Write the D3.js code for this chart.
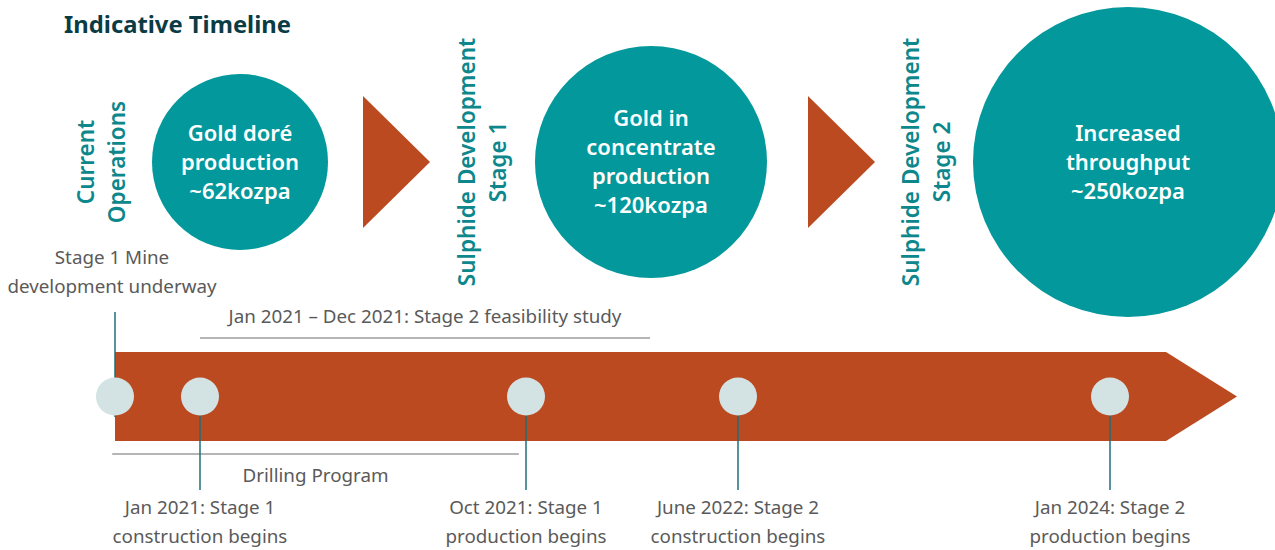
<!DOCTYPE html>
<html><head><meta charset="utf-8">
<script src="https://cdn.jsdelivr.net/npm/d3@7"></script>
<style>
html,body{margin:0;padding:0;background:#fff;}
svg{display:block;font-family:"Noto Sans",sans-serif;}
</style></head>
<body><svg id="chart" width="1275" height="550"></svg>
<script>
// ---- data ----
const title = "Indicative Timeline";
const stageKeys = ["current", "stage1", "stage2"];
const stageLabels = [["Current", "Operations"], ["Sulphide Development", "Stage 1"], ["Sulphide Development", "Stage 2"]];
const stageText = [["Gold doré", "production", "~62kozpa"], ["Gold in", "concentrate", "production", "~120kozpa"], ["Increased", "throughput", "~250kozpa"]];
const stageKozpa = [62, 120, 250];

const milestoneDates = ["2020-10-01", "2021-01-01", "2021-10-01", "2022-06-01", "2024-01-01"];
const milestoneAbove = [["Stage 1 Mine", "development underway"], null, null, null, null];
const milestoneBelow = [null, ["Jan 2021: Stage 1", "construction begins"], ["Oct 2021: Stage 1", "production begins"], ["June 2022: Stage 2", "construction begins"], ["Jan 2024: Stage 2", "production begins"]];

const spanLabels = ["Jan 2021 – Dec 2021: Stage 2 feasibility study", "Drilling Program"];
const spanStart = ["2021-01-01", "2020-09-28"];
const spanEnd = ["2021-12-01", "2021-09-25"];
const spanSide = ["above", "below"];

// ---- styles ----
const C = {teal:"#03989b", rust:"#bc4a20", dot:"#d3e2e2", stem:"#1e6f78", grey:"#5a5a5a", span:"#b5b5b5", title:"#0b3c46", label:"#0d878b"};
const FS = 18.8;

const svg = d3.select("#chart");
const parse = d3.timeParse("%Y-%m-%d");

// piecewise time scale (timeline is not drawn to scale in the original)
const x = d3.scaleTime()
  .domain(["2020-10-01","2021-01-01","2021-10-01","2021-12-01","2022-06-01","2024-01-01"].map(parse))
  .range([115, 200, 526, 650, 738, 1110]);

// stage positions
const stageX = d3.scaleOrdinal().domain(stageKeys).range([240, 651, 1128]);
const labelX = d3.scaleOrdinal().domain(stageKeys).range([102, 483, 927]);
const arrowX = d3.scaleOrdinal().domain(stageKeys).range([363, 808, null]);
const rScale = d3.scaleLinear().domain([62, 120, 250]).range([88, 116, 155]);
const cy = 162;

// title
svg.append("text").attr("x", 64).attr("y", 33).text(title)
  .attr("font-size", 23.8).attr("font-weight", 700).attr("fill", C.title);

// stages
stageKeys.forEach((k, i) => {
  const g = svg.append("g");
  const r = rScale(stageKozpa[i]);
  g.append("circle").attr("cx", stageX(k)).attr("cy", cy).attr("r", r).attr("fill", C.teal);
  const lines = stageText[i];
  const lh = 29;
  const y0 = cy - (lines.length - 1) * lh / 2 + 7.5;
  lines.forEach((t, j) => {
    g.append("text").attr("x", stageX(k)).attr("y", y0 + j * lh).attr("text-anchor", "middle")
      .attr("font-size", 22).attr("font-weight", 600).attr("fill", "#fff").text(t);
  });
  // rotated label
  const lab = stageLabels[i];
  lab.forEach((t, j) => {
    const lx = labelX(k) + (j - (lab.length - 1) / 2) * 31 + 7.5;
    g.append("text").attr("transform", `translate(${lx},${cy}) rotate(-90)`)
      .attr("text-anchor", "middle").attr("font-size", 22.5).attr("font-weight", 600)
      .attr("fill", C.label).text(t);
  });
  if (arrowX(k) != null) {
    const ax = arrowX(k);
    g.append("path").attr("d", d3.line()([[ax, cy - 66], [ax + 67, cy], [ax, cy + 66]]) + "Z").attr("fill", C.rust);
  }
});

// band arrow
const bandTop = 352, bandBot = 441, bandMid = (bandTop + bandBot) / 2;
const bx0 = x(parse(milestoneDates[0])), bx1 = 1166, tip = 1237;
svg.append("path").attr("d", d3.line()([[bx0, bandTop], [bx1, bandTop], [tip, bandMid], [bx1, bandBot], [bx0, bandBot]]) + "Z")
  .attr("fill", C.rust);

// spans
spanLabels.forEach((t, i) => {
  const s = x(parse(spanStart[i])), e = x(parse(spanEnd[i]));
  const ly = spanSide[i] === "above" ? 338 : 454;
  svg.append("line").attr("x1", s).attr("x2", e).attr("y1", ly).attr("y2", ly)
    .attr("stroke", C.span).attr("stroke-width", 2);
  const ty = spanSide[i] === "above" ? 323 : 482;
  svg.append("text").attr("x", (s + e) / 2).attr("y", ty).attr("text-anchor", "middle")
    .attr("font-size", FS).attr("fill", C.grey).text(t);
});

// milestones
milestoneDates.forEach((d, i) => {
  const mx = x(parse(d));
  if (milestoneAbove[i]) {
    svg.append("line").attr("x1", mx).attr("x2", mx).attr("y1", 312).attr("y2", 417)
      .attr("stroke", C.stem).attr("stroke-width", 1.5);
    milestoneAbove[i].forEach((t, j) => {
      svg.append("text").attr("x", mx - 3).attr("y", 264 + j * 29).attr("text-anchor", "middle")
        .attr("font-size", FS).attr("fill", C.grey).text(t);
    });
  }
  if (milestoneBelow[i]) {
    svg.append("line").attr("x1", mx).attr("x2", mx).attr("y1", bandMid).attr("y2", 490)
      .attr("stroke", C.stem).attr("stroke-width", 1.5);
    milestoneBelow[i].forEach((t, j) => {
      svg.append("text").attr("x", mx).attr("y", 514 + j * 29).attr("text-anchor", "middle")
        .attr("font-size", FS).attr("fill", C.grey).text(t);
    });
  }
  svg.append("circle").attr("cx", mx).attr("cy", bandMid).attr("r", 19).attr("fill", C.dot);
});
</script></body></html>
